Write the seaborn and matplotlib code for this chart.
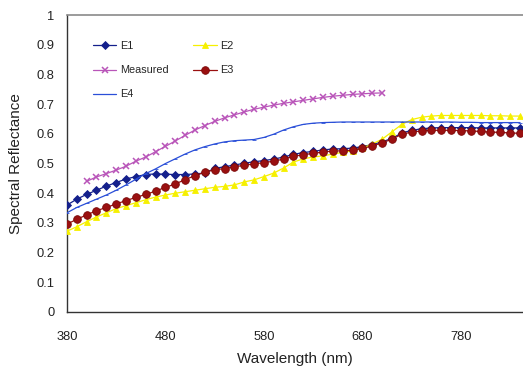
import numpy as np
import pandas as pd
import matplotlib
matplotlib.use("Agg")
import matplotlib.pyplot as plt
import seaborn as sns
from matplotlib.lines import Line2D

wavelength = list(range(380, 850, 10))
measured_wl = list(range(400, 710, 10))

e1 = [0.36, 0.38, 0.396, 0.41, 0.424, 0.436, 0.448, 0.456, 0.463, 0.465,
      0.464, 0.463, 0.463, 0.465, 0.468, 0.484, 0.489, 0.495, 0.501, 0.506,
      0.51, 0.515, 0.522, 0.531, 0.537, 0.541, 0.546, 0.549, 0.55, 0.552,
      0.557, 0.564, 0.573, 0.585, 0.603, 0.612, 0.617, 0.62, 0.621, 0.621,
      0.621, 0.621, 0.62, 0.62, 0.62, 0.62, 0.62]
e2 = [0.272, 0.287, 0.304, 0.32, 0.334, 0.348, 0.358, 0.368, 0.378, 0.387,
      0.394, 0.4, 0.405, 0.41, 0.415, 0.42, 0.423, 0.428, 0.438, 0.445,
      0.456, 0.468, 0.485, 0.505, 0.516, 0.522, 0.526, 0.532, 0.538, 0.543,
      0.552, 0.566, 0.582, 0.607, 0.632, 0.648, 0.656, 0.66, 0.662, 0.662,
      0.662, 0.662, 0.662, 0.661, 0.661, 0.66, 0.66]
e3 = [0.296, 0.312, 0.327, 0.341, 0.352, 0.364, 0.375, 0.386, 0.396, 0.407,
      0.42, 0.431, 0.446, 0.459, 0.471, 0.479, 0.483, 0.489, 0.494, 0.499,
      0.503, 0.508, 0.515, 0.524, 0.53, 0.534, 0.539, 0.542, 0.543, 0.545,
      0.551, 0.559, 0.57, 0.582, 0.599, 0.606, 0.61, 0.612, 0.612, 0.612,
      0.611, 0.61, 0.608, 0.606, 0.605, 0.603, 0.602]
e4 = [0.334, 0.352, 0.366, 0.38, 0.394, 0.41, 0.428, 0.447, 0.466, 0.482,
      0.5, 0.516, 0.532, 0.546, 0.557, 0.566, 0.573, 0.577, 0.579, 0.581,
      0.588, 0.599, 0.613, 0.624, 0.632, 0.636, 0.638, 0.639, 0.64, 0.64,
      0.64, 0.64, 0.64, 0.64, 0.64, 0.64, 0.64, 0.64, 0.64, 0.64,
      0.639, 0.639, 0.638, 0.638, 0.638, 0.638, 0.638]
measured = [0.44, 0.455, 0.466, 0.478, 0.491, 0.508, 0.522, 0.54, 0.558, 0.576,
            0.595, 0.613, 0.628, 0.642, 0.654, 0.664, 0.674, 0.683, 0.69, 0.697,
            0.703, 0.708, 0.713, 0.718, 0.723, 0.727, 0.73, 0.733, 0.735, 0.737,
            0.738]

x_ticks = [380, 480, 580, 680, 780]
y_ticks = [0, 0.1, 0.2, 0.3, 0.4, 0.5, 0.6, 0.7, 0.8, 0.9, 1.0]
y_tick_labels = ["0", "0.1", "0.2", "0.3", "0.4", "0.5", "0.6", "0.7", "0.8", "0.9", "1"]

sns.set_style("white")
plt.rcParams['font.family'] = ['Liberation Sans', 'DejaVu Sans']

fig = plt.figure(figsize=(5.23, 3.70), dpi=100)
ax = fig.add_axes([0.128, 0.157, 0.872, 0.802])

styles = {
    "E1": dict(color="#14208c", marker="D", ms=4, mec="#14208c"),
    "E2": dict(color="#f6f000", marker="^", ms=5, mec="#f6f000"),
    "Measured": dict(color="#b955b9", marker="x", ms=5, mec="#b955b9", mew=1.1),
    "E3": dict(color="#9a1010", marker="o", ms=5.5, mec="#7a0808"),
    "E4": dict(color="#2a4fd8", marker="_", ms=2.5, mec="#2a4fd8"),
}

series = [
    ("E1", wavelength, e1),
    ("E2", wavelength, e2),
    ("Measured", measured_wl, measured),
    ("E3", wavelength, e3),
    ("E4", wavelength, e4),
]

handles = {}
for name, xs, ys in series:
    st = styles[name]
    df = pd.DataFrame({"x": xs, "y": ys})
    sns.lineplot(data=df, x="x", y="y", ax=ax, color=st["color"], lw=0.9,
                 marker=st["marker"], markersize=st["ms"],
                 markeredgecolor=st["mec"], markeredgewidth=st.get("mew", 0.6),
                 legend=False, zorder=3)
    handles[name] = Line2D([], [], color=st["color"], lw=0.9, marker=st["marker"],
                           markersize=st["ms"], markeredgecolor=st["mec"],
                           markeredgewidth=st.get("mew", 0.6))

order = ["E1", "Measured", "E4", "E2", "E3"]
leg = ax.legend([handles[k] for k in order], order, ncol=2, loc="upper left",
                bbox_to_anchor=(0.035, 0.945), frameon=False, fontsize=7.8,
                handlelength=2.2, handletextpad=0.3, columnspacing=2.3,
                labelspacing=1.3)

ax.set_xlim(380, 843)
ax.set_ylim(0, 1)
ax.set_xticks(x_ticks)
ax.set_xticklabels([str(t) for t in x_ticks])
ax.set_yticks(y_ticks)
ax.set_yticklabels(y_tick_labels)
ax.tick_params(axis="both", labelsize=9.3, colors="#222222", direction="out",
               length=3, width=0.8, pad=6)
ax.tick_params(axis="x", pad=11)

ax.set_xlabel("Wavelength (nm)", fontsize=11, color="#222222", labelpad=6)
ax.set_ylabel("Spectral Reflectance", fontsize=11, color="#222222", labelpad=10)

for s in ["left", "bottom"]:
    ax.spines[s].set_color("#333333")
    ax.spines[s].set_linewidth(1.0)
ax.spines["top"].set_color("#8a8a8a")
ax.spines["top"].set_linewidth(1.2)
ax.spines["right"].set_visible(False)

fig.savefig("out.png", dpi=100)
